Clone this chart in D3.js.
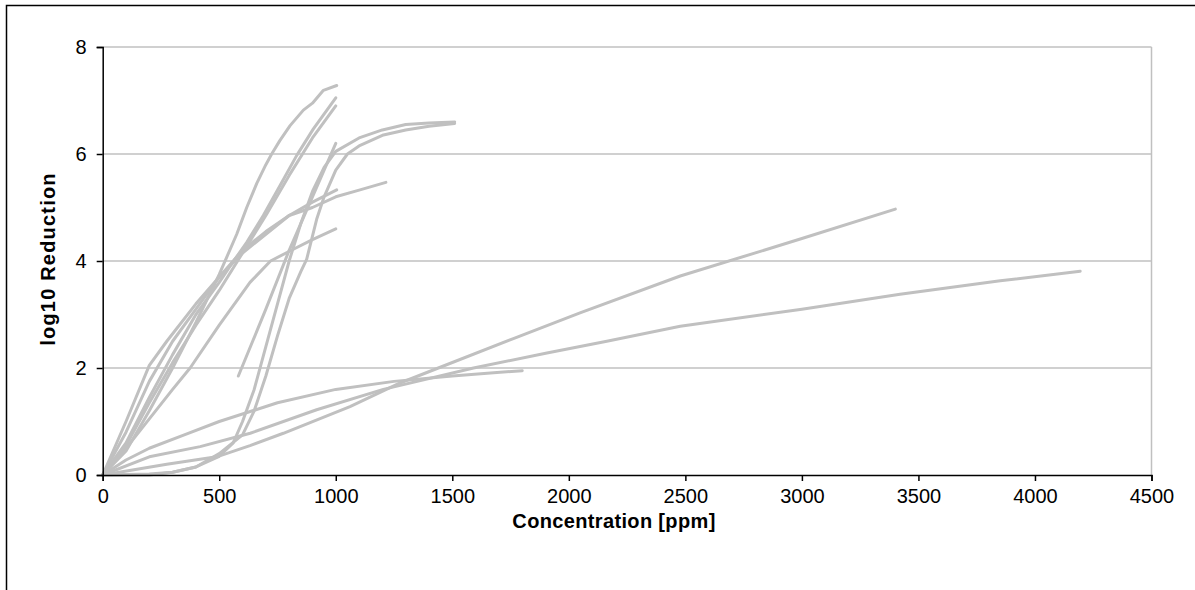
<!DOCTYPE html>
<html><head><meta charset="utf-8">
<script src="https://cdn.jsdelivr.net/npm/d3@7"></script>
<style>html,body{margin:0;padding:0;background:#fff;}svg{display:block;font-family:"Liberation Sans",Arial,sans-serif;}</style>
</head><body>
<svg id="chart" width="1195" height="590"></svg>
<script>
// Data (concentration ppm, log10 reduction)
const seriesA = [[0,0],[100,0.45],[200,1.2],[300,2.0],[400,2.85],[500,3.75],[575,4.5],[618,5.0],[661,5.45],[700,5.8],[725,6.0],[760,6.25],[804,6.53],[861,6.82],[900,6.95],[947,7.19],[1004,7.28]];
const seriesB = [[0,0],[100,0.6],[200,1.45],[300,2.25],[400,3.0],[500,3.6],[546,3.9],[618,4.35],[689,4.85],[761,5.41],[832,5.97],[904,6.47],[1000,7.05]];
const seriesC = [[0,0],[100,0.55],[200,1.35],[300,2.1],[400,2.8],[500,3.45],[600,4.15],[700,4.85],[800,5.6],[900,6.3],[1000,6.9]];
const seriesD = [[0,0],[200,0.02],[300,0.05],[400,0.15],[500,0.35],[560,0.6],[600,1.0],[650,1.6],[700,2.4],[750,3.2],[800,4.0],[850,4.7],[900,5.3],[950,5.75],[1000,6.05],[1100,6.3],[1200,6.45],[1300,6.55],[1400,6.58],[1510,6.6]];
const seriesE = [[0,0],[200,0.0],[300,0.05],[400,0.15],[500,0.4],[600,0.75],[650,1.2],[700,1.85],[750,2.6],[800,3.3],[850,3.8],[875,4.03],[918,4.78],[950,5.2],[1000,5.7],[1050,6.0],[1100,6.15],[1200,6.35],[1300,6.45],[1400,6.52],[1510,6.57]];
const seriesF = [[0,0],[100,1.0],[200,2.05],[275,2.5],[400,3.2],[500,3.7],[600,4.2],[700,4.55],[800,4.85],[900,5.0],[1000,5.2],[1104,5.33],[1215,5.47]];
const seriesG = [[0,0],[100,0.8],[200,1.75],[300,2.5],[400,3.1],[500,3.7],[600,4.15],[700,4.5],[800,4.85],[900,5.1],[1004,5.33]];
const seriesH = [[0,0],[100,0.5],[200,1.05],[300,1.6],[375,2.0],[500,2.8],[632,3.6],[720,4.0],[818,4.22],[900,4.4],[1000,4.6]];
const seriesI = [[582,1.85],[700,3.1],[800,4.2],[900,5.2],[1000,6.2]];
const seriesJ = [[0,0],[100,0.28],[200,0.5],[350,0.75],[500,1.0],[750,1.35],[1000,1.6],[1250,1.75],[1500,1.85],[1650,1.9],[1800,1.95]];
const seriesK = [[0,0],[275,0.2],[489,0.34],[632,0.55],[775,0.78],[1061,1.28],[1276,1.72],[1440,2.0],[1762,2.55],[2048,3.03],[2478,3.72],[3000,4.42],[3401,4.97]];
const seriesL = [[0,0],[200,0.34],[418,0.53],[633,0.78],[918,1.22],[1204,1.6],[1591,2.0],[1906,2.28],[2163,2.5],[2478,2.78],[3000,3.1],[3421,3.38],[3851,3.63],[4194,3.81]];
const allSeries = [seriesA,seriesB,seriesC,seriesD,seriesE,seriesF,seriesG,seriesH,seriesI,seriesJ,seriesK,seriesL];
const xTicks = [0,500,1000,1500,2000,2500,3000,3500,4000,4500];
const yTicks = [0,2,4,6,8];
const xTitle = "Concentration [ppm]";
const yTitle = "log10 Reduction";

const svg = d3.select("#chart");
const x = d3.scaleLinear().domain([0,4500]).range([102.7,1151.5]);
const y = d3.scaleLinear().domain([0,8]).range([475,47]);

// outer frame
svg.append("rect").attr("x",6.5).attr("y",5.5).attr("width",1200).attr("height",600)
  .attr("fill","none").attr("stroke","#000").attr("stroke-width",1.5);

// gridlines
svg.append("g").selectAll("line").data(yTicks.filter(d=>d>0)).join("line")
  .attr("x1",x(0)).attr("x2",x(4500)).attr("y1",d=>y(d)).attr("y2",d=>y(d))
  .attr("stroke","#c0c0c0").attr("stroke-width",1.5);
// right border of plot area
svg.append("line").attr("x1",x(4500)).attr("x2",x(4500)).attr("y1",y(8)).attr("y2",y(0))
  .attr("stroke","#c0c0c0").attr("stroke-width",1.5);

// series
const line = d3.line().x(d=>x(d[0])).y(d=>y(d[1]));
svg.append("g").selectAll("path").data(allSeries).join("path")
  .attr("d",line).attr("fill","none").attr("stroke","#c0c0c0")
  .attr("stroke-width",3).attr("stroke-linejoin","round").attr("stroke-linecap","round");

// axes
const xAxis = d3.axisBottom(x).tickValues(xTicks).tickSize(6).tickPadding(8).tickFormat(d3.format("d"));
const gx = svg.append("g").attr("transform",`translate(0,${y(0)})`).call(xAxis);
gx.select(".domain").attr("stroke","#000").attr("stroke-width",1.5);
gx.selectAll(".tick line").attr("stroke","#000").attr("stroke-width",1.5);
gx.selectAll("text").attr("font-size",20).attr("fill","#000").attr("font-family","Liberation Sans, Arial, sans-serif");

const yAxis = d3.axisLeft(y).tickValues(yTicks).tickSize(6).tickPadding(10).tickFormat(d3.format("d"));
const gy = svg.append("g").attr("transform",`translate(${x(0)},0)`).call(yAxis);
gy.select(".domain").attr("stroke","#000").attr("stroke-width",1.5);
gy.selectAll(".tick line").attr("stroke","#000").attr("stroke-width",1.5);
gy.selectAll("text").attr("font-size",20).attr("fill","#000").attr("font-family","Liberation Sans, Arial, sans-serif");

// titles
svg.append("text").attr("x",614).attr("y",528).attr("text-anchor","middle")
  .attr("font-size",20).attr("font-weight","bold").attr("letter-spacing",0.35).text(xTitle);
svg.append("text").attr("transform","translate(55,259) rotate(-90)").attr("text-anchor","middle")
  .attr("font-size",20).attr("font-weight","bold").attr("letter-spacing",1.2).text(yTitle);
</script>
</body></html>
